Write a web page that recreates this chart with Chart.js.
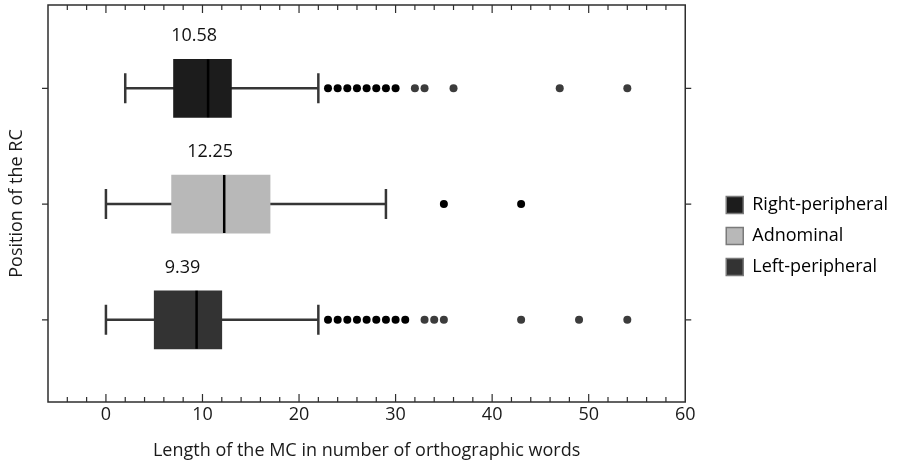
<!DOCTYPE html>
<html>
<head>
<meta charset="utf-8">
<script src="https://cdn.jsdelivr.net/npm/chart.js@4.4.1/dist/chart.umd.min.js"></script>
<style>
  html, body { margin: 0; padding: 0; background: #fff; }
  #wrap { width: 898px; height: 467px; }
</style>
</head>
<body>
<div id="wrap"><canvas id="boxChart"></canvas></div>
<script>
const categories = ["Right-peripheral", "Adnominal", "Left-peripheral"];
const positions = [3, 2, 1];
const whiskerLow = [2, 0, 0];
const q1 = [7, 6.8, 5];
const medians = [10.58, 12.25, 9.39];
const q3 = [13, 17, 12];
const whiskerHigh = [22, 29, 22];
const outliersRight = [23, 24, 25, 26, 27, 28, 29, 30, 32, 33, 36, 47, 54];
const outliersAdnominal = [35, 43];
const outliersLeft = [23, 24, 25, 26, 27, 28, 29, 30, 31, 33, 34, 35, 43, 49, 54];
const xTickLabels = [0, 10, 20, 30, 40, 50, 60];

const boxColors = ["#1c1c1c", "#b8b8b8", "#333333"];
const outlierSets = [outliersRight, outliersAdnominal, outliersLeft];

Chart.defaults.font.family = '"Open Sans", sans-serif';
Chart.defaults.font.size = 18;
Chart.defaults.color = "#1a1a1a";

const Y_MIN = 0.29;
const Y_MAX = 3.72;

// boxes (floating bars), drawn above whiskers
const boxDatasets = categories.map((name, i) => ({
  type: "bar",
  label: name,
  indexAxis: "y",
  grouped: false,
  data: [{ x: [q1[i], q3[i]], y: positions[i] }],
  backgroundColor: boxColors[i],
  borderWidth: 0,
  barThickness: 58,
  order: 2,
}));

// whiskers from low to high, the box hides the middle
const whiskerDatasets = categories.map((name, i) => ({
  type: "line",
  label: name + " whisker",
  data: [
    { x: whiskerLow[i], y: positions[i] },
    { x: whiskerHigh[i], y: positions[i] },
  ],
  borderColor: "#363636",
  borderWidth: 2.5,
  pointStyle: "line",
  pointRotation: 90,
  pointRadius: 15,
  pointBorderColor: "#363636",
  pointBorderWidth: 2.5,
  order: 3,
}));

const medianDataset = {
  type: "scatter",
  label: "median",
  data: positions.map((p, i) => ({ x: medians[i], y: p })),
  pointStyle: "line",
  pointRotation: 90,
  pointRadius: 29,
  pointBorderColor: "#000",
  pointBorderWidth: 2.5,
  order: 1,
};

const outlierDatasets = outlierSets.map((vals, i) => ({
  type: "scatter",
  label: categories[i] + " outliers",
  data: vals.map((v) => ({ x: v, y: positions[i] })),
  pointRadius: 4,
  pointBorderWidth: 0,
  pointBackgroundColor: (ctx) => {
    if (i === 1 || !ctx.raw) return "#000";
    return ctx.raw.x <= 31 ? "#000" : "#3c3c3c";
  },
  order: 0,
}));

const frameTicks = {
  id: "frameTicks",
  afterDraw(chart) {
    const { ctx, chartArea: a } = chart;
    const x = chart.scales.x;
    const y = chart.scales.y;
    ctx.save();
    ctx.strokeStyle = "#2e2e2e";
    ctx.lineWidth = 1.5;
    ctx.strokeRect(a.left, a.top, a.right - a.left, a.bottom - a.top);
    ctx.lineWidth = 1.2;
    ctx.beginPath();
    x.ticks.forEach((t) => {
      const px = x.getPixelForValue(t.value);
      if (px <= a.left + 1 || px >= a.right - 1) return;
      const len = xTickLabels.includes(t.value) ? 8 : 5;
      ctx.moveTo(px, a.bottom);
      ctx.lineTo(px, a.bottom - len);
      ctx.moveTo(px, a.top);
      ctx.lineTo(px, a.top + len);
    });
    y.ticks.forEach((t) => {
      const py = y.getPixelForValue(t.value);
      ctx.moveTo(a.left, py);
      ctx.lineTo(a.left - 6, py);
      ctx.moveTo(a.right, py);
      ctx.lineTo(a.right + 6, py);
    });
    ctx.stroke();
    ctx.restore();
  },
};

const medianLabels = {
  id: "medianLabels",
  afterDatasetsDraw(chart) {
    const { ctx } = chart;
    const x = chart.scales.x;
    const y = chart.scales.y;
    ctx.save();
    ctx.font = '18px "Open Sans", sans-serif';
    ctx.fillStyle = "#111";
    ctx.textAlign = "center";
    ctx.textBaseline = "middle";
    medians.forEach((m, i) => {
      ctx.fillText(
        m.toFixed(2),
        x.getPixelForValue(m) - 14,
        y.getPixelForValue(positions[i]) - 52
      );
    });
    ctx.restore();
  },
};

new Chart(document.getElementById("boxChart"), {
  type: "scatter",
  data: {
    datasets: [...boxDatasets, ...whiskerDatasets, medianDataset, ...outlierDatasets],
  },
  options: {
    responsive: true,
    maintainAspectRatio: false,
    animation: false,
    events: [],
    layout: { autoPadding: false, padding: { top: 5, left: 0, right: 0, bottom: 0 } },
    scales: {
      x: {
        type: "linear",
        min: -6,
        max: 60,
        offset: false,
        grid: { display: false, drawTicks: false, offset: false },
        border: { display: false },
        ticks: {
          stepSize: 2,
          autoSkip: false,
          maxRotation: 0,
          includeBounds: false,
          padding: 2,
          color: "#1a1a1a",
          callback: (v) => (xTickLabels.includes(v) ? String(v) : ""),
        },
        title: {
          display: true,
          text: "Length of the MC in number of orthographic words",
          color: "#1a1a1a",
          padding: { top: 0, bottom: 5 },
        },
        afterFit: (s) => { s.height = 65; },
      },
      y: {
        type: "linear",
        min: Y_MIN,
        max: Y_MAX,
        offset: false,
        grid: { display: false, drawTicks: false, offset: false },
        border: { display: false },
        ticks: { stepSize: 1, display: false, includeBounds: false },
        title: {
          display: true,
          text: "Position of the RC",
          color: "#1a1a1a",
          padding: { top: 6, bottom: 0 },
        },
        afterFit: (s) => { s.width = 48; },
      },
      y2: {
        type: "linear",
        position: "right",
        display: true,
        min: Y_MIN,
        max: Y_MAX,
        offset: false,
        grid: { display: false, drawTicks: false },
        border: { display: false },
        ticks: { display: false },
        afterFit: (s) => { s.width = 28; },
      },
    },
    plugins: {
      tooltip: { enabled: false },
      legend: {
        position: "right",
        align: "center",
        maxWidth: 220,
        labels: {
          boxWidth: 17,
          boxHeight: 17,
          padding: 13,
          color: "#1a1a1a",
          font: { size: 18 },
          generateLabels: () =>
            categories.map((name, i) => ({
              text: name,
              fillStyle: boxColors[i],
              strokeStyle: "#7a7a7a",
              lineWidth: 1.5,
              datasetIndex: i,
              hidden: false,
            })),
        },
      },
    },
  },
  plugins: [frameTicks, medianLabels],
});
</script>
</body>
</html>
